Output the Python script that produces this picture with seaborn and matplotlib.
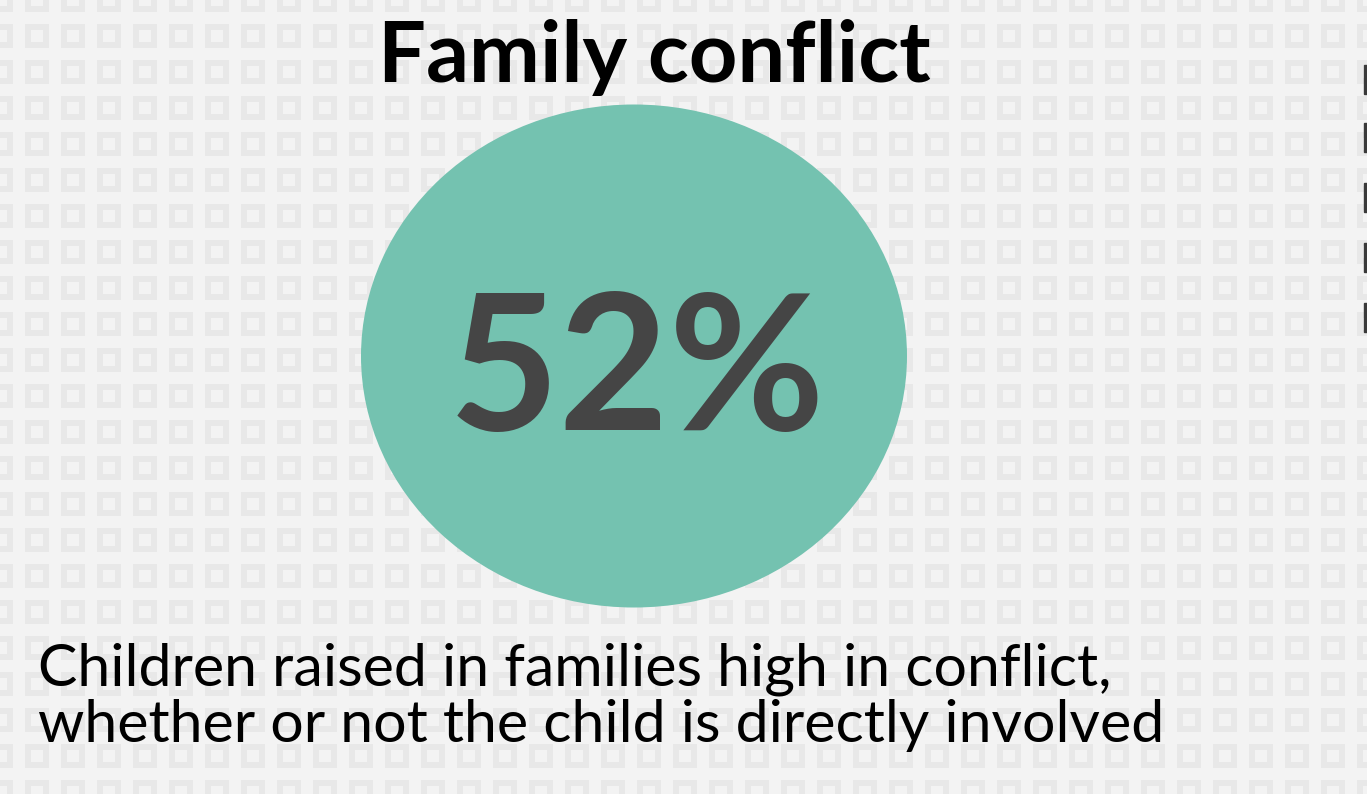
import numpy as np
import seaborn as sns
import matplotlib.pyplot as plt
from matplotlib.patches import Ellipse, Rectangle

# chart content
title = 'Family conflict'
share_pct = 52
caption_lines = ['Children raised in families high in conflict,',
                 'whether or not the child is directly involved']

W, H = 1367, 794

sns.set_theme(style='white')
plt.rcParams['font.family'] = ['Lato', 'DejaVu Sans']

fig = plt.figure(figsize=(W / 100, H / 100), dpi=100)
ax = fig.add_axes([0, 0, 1, 1])
ax.set_xlim(0, W)
ax.set_ylim(H, 0)
ax.axis('off')

# tiled square-outline background
bg = np.full((H, W), 0xf4, dtype=float)
yy, xx = np.mgrid[0:H, 0:W]
px = (xx - 25) % 36
py = (yy - 24) % 36
ring = (px < 24) & (py < 24) & ~((px >= 6) & (px < 18) & (py >= 6) & (py < 18))
bg[ring] = 0xe8
ax.imshow(bg / 255.0, cmap='gray', vmin=0, vmax=1, extent=(0, W, H, 0),
          interpolation='nearest', zorder=0)

# cut-off marks at right edge
for y0 in [65, 123, 183, 243, 303]:
    ax.add_patch(Rectangle((1364, y0), 4, 29, color='#3a3a3a', zorder=1))

# the bubble
ax.add_patch(Ellipse((634, 356), 546, 503, color='#74c2b0', lw=0, zorder=2))
ax.text(637, 376, f'{share_pct}%', ha='center', va='center', fontsize=137,
        fontweight='bold', color='#454545', zorder=3)

ax.text(654, 58, title, ha='center', va='center', fontsize=61,
        fontweight='bold', color='black', zorder=3)

for i, line in enumerate(caption_lines):
    ax.text(38, 685 + i * 57, line, ha='left', va='baseline', fontsize=42.5,
            color='black', zorder=3)

fig.savefig('out.png', dpi=100)
